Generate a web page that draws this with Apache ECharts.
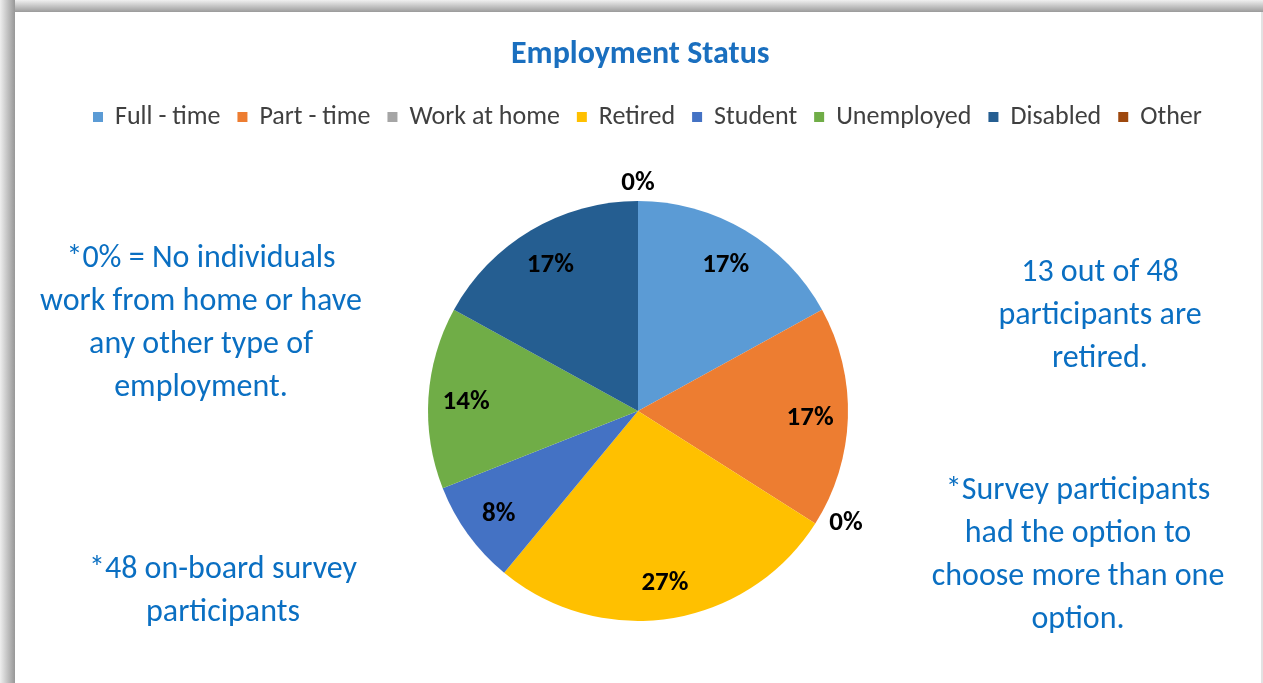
<!DOCTYPE html>
<html>
<head>
<meta charset="utf-8">
<title>Employment Status</title>
<script src="https://cdn.jsdelivr.net/npm/echarts@6/dist/echarts.min.js"></script>
<style>
  html, body { margin: 0; padding: 0; background: #ffffff; }
  #chart { width: 1263px; height: 683px; }
</style>
</head>
<body>
<div id="chart"></div>
<script>
// Employment status of on-board survey participants (percent of responses)
const categories = ['Full - time', 'Part - time', 'Work at home', 'Retired', 'Student', 'Unemployed', 'Disabled', 'Other'];
const shares = [17, 17, 0, 27, 8, 14, 17, 0];
const sliceColors = ['#5B9BD5', '#ED7D31', '#A5A5A5', '#FFC000', '#4472C4', '#70AD47', '#255E91', '#9E480E'];

// Side notes
const noteWorkFromHome = ['*0% = No individuals', 'work from home or have', 'any other type of', 'employment.'];
const noteRetired = ['13 out of 48', 'participants are', 'retired.'];
const noteMultiple = ['*Survey participants', 'had the option to', 'choose more than one', 'option.'];
const noteSampleSize = ['*48 on-board survey', 'participants'];

const FONT = 'Carlito, Lato, sans-serif';
const NOTE_BLUE = '#0A6FC2';
const PIE_CX = 638, PIE_CY = 411, PIE_R = 210;

// Mid angle of each slice, clockwise from 12 o'clock
const total = shares.reduce((a, b) => a + b, 0);
const midAngles = [];
let acc = 0;
shares.forEach(v => { midAngles.push((acc + v / 2) / total * 2 * Math.PI); acc += v; });

// Percent labels sit near the rim inside each slice; empty slices get
// their label just outside the rim.
function placeLabel(p) {
  const a = midAngles[p.dataIndex];
  const sx = Math.sin(a), sy = -Math.cos(a);
  if (shares[p.dataIndex] > 0) {
    const r = PIE_R * 0.82;
    return { x: PIE_CX + r * sx, y: PIE_CY + r * sy + 2, align: 'center', verticalAlign: 'middle' };
  }
  const ex = PIE_CX + PIE_R * sx, ey = PIE_CY + PIE_R * sy;
  if (Math.abs(sx) < 0.2) {
    return { x: ex, y: ey + (sy < 0 ? -18 : 18), align: 'center', verticalAlign: 'middle' };
  }
  return { x: ex + (sx > 0 ? 14 : -14), y: ey, align: sx > 0 ? 'left' : 'right', verticalAlign: 'middle' };
}

function noteText(lines, cx, firstLineCy) {
  return {
    type: 'text',
    x: cx,
    y: firstLineCy - 21.5,
    silent: true,
    style: {
      text: lines.join('\n'),
      align: 'center',
      verticalAlign: 'top',
      lineHeight: 43,
      fontSize: 32,
      fontFamily: FONT,
      fill: NOTE_BLUE
    }
  };
}

const chart = echarts.init(document.getElementById('chart'), null, { renderer: 'canvas' });

chart.setOption({
  animation: false,
  backgroundColor: '#ffffff',
  color: sliceColors,
  title: {
    text: 'Employment Status',
    left: 506,
    top: 34,
    textStyle: { fontFamily: FONT, fontSize: 32, fontWeight: 'bold', color: '#1A6FBF' }
  },
  legend: {
    data: categories,
    left: 88,
    top: 98,
    icon: 'rect',
    itemWidth: 10,
    itemHeight: 10,
    itemGap: 17,
    selectedMode: false,
    textStyle: { fontFamily: FONT, fontSize: 26, color: '#404040', lineHeight: 28, padding: [0, 0, 0, 7] }
  },
  graphic: [
    // soft shadow along the top and left of the chart frame
    {
      type: 'rect', silent: true, z: 10,
      shape: { x: 0, y: 0, width: 1263, height: 12 },
      style: { fill: new echarts.graphic.LinearGradient(0, 0, 0, 1, [
        { offset: 0, color: '#f0f0f0' }, { offset: 0.85, color: '#a8a8a8' }, { offset: 1, color: '#9a9a9a' }
      ]) }
    },
    {
      type: 'rect', silent: true, z: 10,
      shape: { x: 0, y: 0, width: 15, height: 683 },
      style: { fill: new echarts.graphic.LinearGradient(0, 0, 1, 0, [
        { offset: 0, color: '#eeeeee' }, { offset: 0.85, color: '#a4a4a4' }, { offset: 1, color: '#979797' }
      ]) }
    },
    {
      type: 'rect', silent: true, z: 10,
      shape: { x: 1261, y: 12, width: 2, height: 671 },
      style: { fill: '#e2e2e2' }
    },
    noteText(noteWorkFromHome, 201, 259),
    noteText(noteRetired, 1100, 273),
    noteText(noteMultiple, 1078, 491),
    noteText(noteSampleSize, 223, 570)
  ],
  series: [{
    type: 'pie',
    center: [PIE_CX, PIE_CY],
    radius: PIE_R,
    startAngle: 90,
    clockwise: true,
    avoidLabelOverlap: false,
    minShowLabelAngle: 0,
    silent: true,
    itemStyle: { borderWidth: 0 },
    label: {
      show: true,
      position: 'inside',
      formatter: p => p.value + '%',
      fontFamily: FONT,
      fontSize: 27,
      fontWeight: 'bold',
      color: '#000000'
    },
    labelLine: { show: false },
    labelLayout: placeLabel,
    data: categories.map((name, i) => ({ name: name, value: shares[i] }))
  }]
});
</script>
</body>
</html>
